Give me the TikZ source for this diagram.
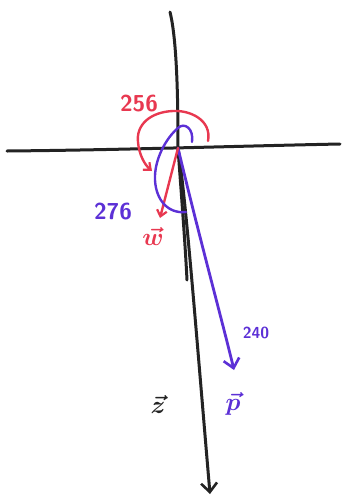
\documentclass[tikz,border=0pt]{standalone}
\usetikzlibrary{arrows.meta}
\definecolor{penred}{RGB}{232,56,80}
\definecolor{penpurple}{RGB}{92,48,214}
\definecolor{penblack}{RGB}{35,35,35}
\tikzset{
  axisline/.style={draw=penblack,line width=3pt,line cap=round},
  blackvec/.style={draw=penblack,line width=3pt,line cap=round,-{Straight Barb[length=9pt,width=16pt,line width=2.6pt]}},
  purplevec/.style={draw=penpurple,line width=2.8pt,line cap=round,-{Straight Barb[length=9pt,width=16pt,line width=2.6pt]}},
  redvec/.style={draw=penred,line width=2.4pt,line cap=round,-{Straight Barb[length=6pt,width=10pt,line width=2.2pt]}},
  redarc/.style={draw=penred,line width=2.4pt,line cap=round,-{Straight Barb[length=6pt,width=10pt,line width=2.2pt]}},
  purplearc/.style={draw=penpurple,line width=2.4pt,line cap=round},
  lbl/.style={inner sep=0pt,font=\fontsize{23}{23}\selectfont\sffamily\bfseries},
  veclbl/.style={inner sep=0pt,font=\fontsize{26}{26}\selectfont\boldmath},
  smalllbl/.style={inner sep=0pt,font=\fontsize{16}{16}\selectfont\sffamily\bfseries}
}
\begin{document}
\begin{tikzpicture}[x=1pt,y=-1pt]
\useasboundingbox (0,0) rectangle (343,499);
% key points
\coordinate (O) at (178,148);
\coordinate (top) at (170,12);
\coordinate (left) at (7,151);
\coordinate (right) at (340,144);
\coordinate (Z) at (210,494);
\coordinate (S) at (187,280);
\coordinate (P) at (234,370);
\coordinate (W) at (160,218);
\coordinate (A1) at (208,141);
\coordinate (A2) at (152,171);
\coordinate (B1) at (192,142);
\coordinate (B2) at (186,212);
% axes
\draw[axisline] (left) .. controls (120,150) and (240,146) .. (right);
\draw[axisline] (top) .. controls (177,40) and (178,100) .. (O);
% black vectors
\draw[blackvec] (O) .. controls (186,200) and (196,330) .. (Z);
\draw[axisline] (O) .. controls (181,190) and (185,240) .. (S);
% purple vector
\draw[purplevec] (O) .. controls (200,240) and (222,320) .. (P);
% red vector
\draw[redvec] (O) -- (W);
% red arc 256
\draw[redarc] (A1) .. controls (212,120) and (190,110) .. (173,111)
  .. controls (150,112) and (136,125) .. (138,142)
  .. controls (139,155) and (145,165) .. (A2);
% purple loop 276
\draw[purplearc] (B1) .. controls (194,128) and (184,122) .. (178,128)
  .. controls (166,138) and (154,160) .. (155,180)
  .. controls (156,200) and (168,214) .. (B2);
% labels
\node[lbl,text=penred] (l256) at (139,104) {256};
\node[lbl,text=penpurple] (l276) at (113,212) {276};
\node[veclbl,text=penred] (lw) at (153,236) {$\vec{w}$};
\node[smalllbl,text=penpurple] (l240) at (256,333) {240};
\node[veclbl,text=penpurple] (lp) at (233,404) {$\vec{p}$};
\node[veclbl,text=penblack] (lz) at (158,404) {$\vec{z}$};
\end{tikzpicture}
\end{document}
